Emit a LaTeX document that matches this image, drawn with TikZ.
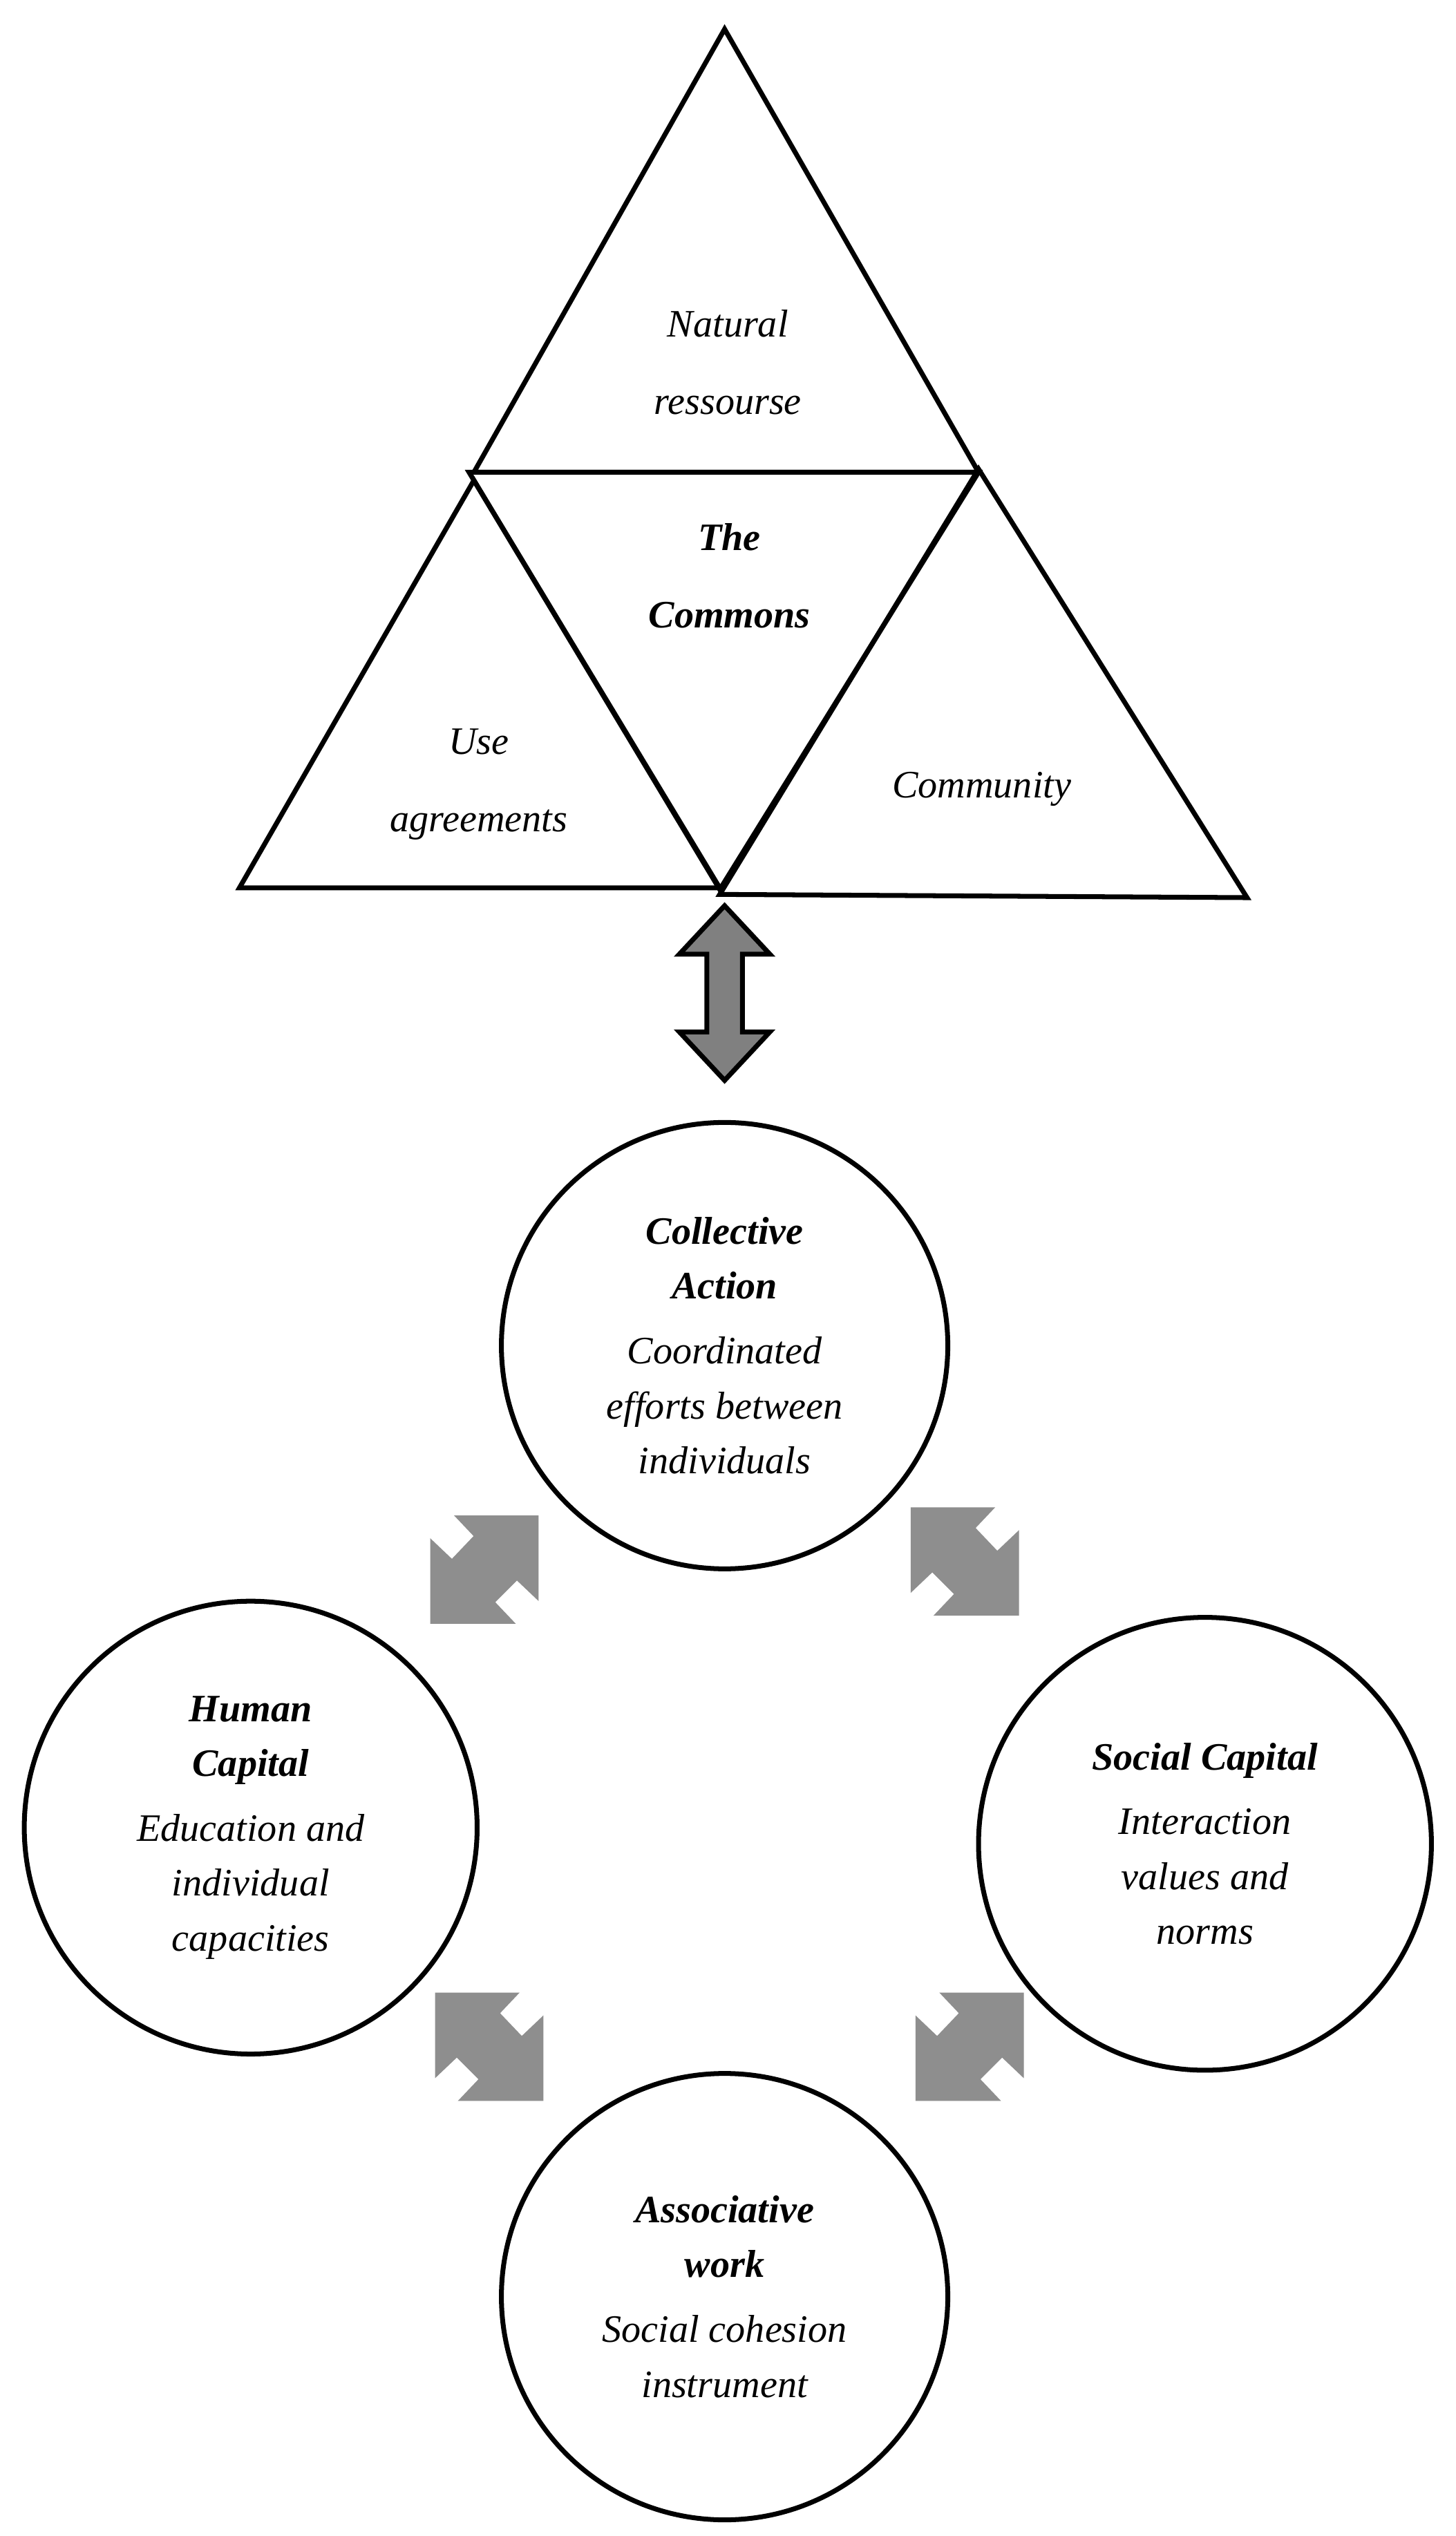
\documentclass[tikz,border=0pt]{standalone}
\usepackage{fontspec}
\setmainfont{Liberation Serif}
\tikzset{every picture/.style={line width=3pt}}
\definecolor{arrowgray}{RGB}{142,142,142}
\tikzset{
  circ/.style={draw,circle,minimum size=276pt,align=center,font=\fontsize{24}{34}\selectfont\itshape},
  lbl/.style={align=center,font=\fontsize{24}{48}\selectfont\itshape},
  grayarrow/.pic={\fill[arrowgray] (0.22,0) -- (1,0) -- (1,0.79) -- (0.80,0.60) -- (0.60,0.80) -- (0.79,1) -- (0,1) -- (0,0.21) -- (0.20,0.40) -- (0.40,0.19) -- cycle;}
}
\begin{document}
\begin{tikzpicture}[x=1pt,y=-1pt]
\useasboundingbox (0,0) rectangle (900,1568);
%Triangles
\draw[line join=miter] (448,18) -- (293,292) -- (605,292) -- cycle;
\draw[line join=miter] (290,292) -- (605,292) -- (445,550) -- cycle;
\draw[line join=miter] (293,297) -- (148,549) -- (445,549) -- cycle;
\draw[line join=miter] (605,290) -- (445,553) -- (771,555) -- cycle;
\node[lbl] (res) at (450,224) {Natural\\ressourse};
\node[lbl] (com) at (451,356) {\bfseries The\\\bfseries Commons};
\node[lbl] (use) at (296,485) {Use\\agreements};
\node[lbl] (cty) at (607,488) {Community};
%Double arrow
\coordinate (top) at (448,560);
\draw[fill=gray!75!black!80,line join=miter] (top) -- (476,590) -- (459,590) -- (459,638) -- (476,638) -- (448,668) -- (420,638) -- (437,638) -- (437,590) -- (420,590) -- cycle;
%Circles
\node[circ] (ca) at (448,832) {\bfseries Collective\\\bfseries Action\\[6pt]Coordinated\\efforts between\\individuals};
\node[circ,minimum size=280pt] (hc) at (155,1130) {\bfseries Human\\\bfseries Capital\\[6pt]Education and\\individual\\capacities};
\node[circ,minimum size=280pt] (sc) at (745,1140) {\bfseries Social Capital\\[6pt]Interaction\\values and\\norms};
\node[circ] (aw) at (448,1420) {\bfseries Associative\\\bfseries work\\[6pt]Social cohesion\\instrument};
%Gray arrows
\begin{scope}[shift={(266,937)},x=67pt,y=-67pt] \pic {grayarrow}; \end{scope}
\begin{scope}[shift={(630,932)},x=-67pt,y=-67pt] \pic {grayarrow}; \end{scope}
\begin{scope}[shift={(336,1232)},x=-67pt,y=-67pt] \pic {grayarrow}; \end{scope}
\begin{scope}[shift={(566,1232)},x=67pt,y=-67pt] \pic {grayarrow}; \end{scope}
\end{tikzpicture}
\end{document}
